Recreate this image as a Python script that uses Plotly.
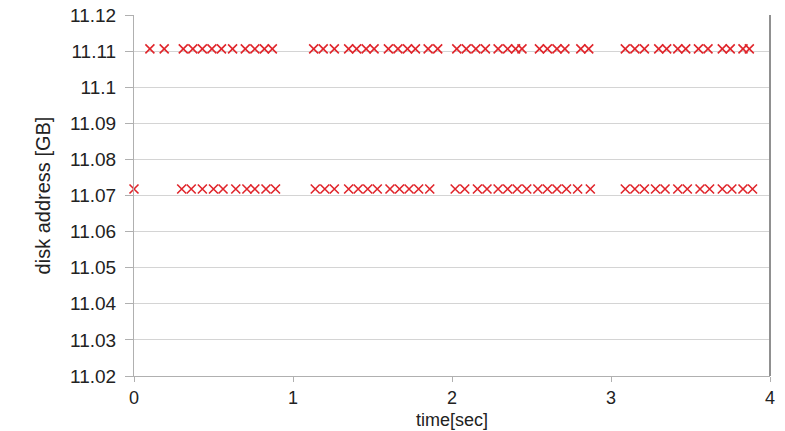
import plotly.graph_objects as go

# Sampled request times [sec] for the two address bands
upper_time = [0.10, 0.19, 0.31, 0.37, 0.43, 0.49, 0.55, 0.62, 0.70, 0.76, 0.82, 0.87,
              1.13, 1.19, 1.26, 1.35, 1.40, 1.46, 1.51, 1.60, 1.66, 1.72, 1.77, 1.85, 1.91,
              2.03, 2.09, 2.15, 2.21, 2.29, 2.35, 2.40, 2.44, 2.55, 2.60, 2.66, 2.71, 2.81, 2.86,
              3.09, 3.15, 3.21, 3.30, 3.35, 3.42, 3.47, 3.55, 3.61, 3.70, 3.75, 3.83, 3.87]
upper_addr = [11.1106] * len(upper_time)

lower_time = [0.00,
              0.30, 0.36, 0.43, 0.50, 0.56, 0.64, 0.71, 0.76, 0.83, 0.89,
              1.14, 1.20, 1.26, 1.35, 1.41, 1.47, 1.53, 1.61, 1.67, 1.73, 1.79, 1.86,
              2.02, 2.08, 2.16, 2.22, 2.29, 2.35, 2.41, 2.47, 2.54, 2.60, 2.66, 2.72, 2.79, 2.87,
              3.09, 3.15, 3.21, 3.28, 3.34, 3.42, 3.48, 3.56, 3.62, 3.70, 3.76, 3.83, 3.89]
lower_addr = [11.0718] * len(lower_time)

y_ticks = [11.02, 11.03, 11.04, 11.05, 11.06, 11.07, 11.08, 11.09, 11.10, 11.11, 11.12]
y_labels = ["11.02", "11.03", "11.04", "11.05", "11.06", "11.07", "11.08", "11.09", "11.1", "11.11", "11.12"]
x_ticks = [0, 1, 2, 3, 4]

marker_style = dict(symbol="x-thin", size=9, color="#e0252b",
                    line=dict(color="#e0252b", width=1.6))

fig = go.Figure()
fig.add_trace(go.Scatter(x=upper_time, y=upper_addr, mode="markers", cliponaxis=False,
                         marker=marker_style, showlegend=False))
fig.add_trace(go.Scatter(x=lower_time, y=lower_addr, mode="markers", cliponaxis=False,
                         marker=marker_style, showlegend=False))

font_main = "Liberation Sans, Arial, sans-serif"

fig.update_layout(
    width=785, height=431,
    margin=dict(l=134, r=15, t=15, b=55, autoexpand=False),
    paper_bgcolor="white", plot_bgcolor="white",
    font=dict(family=font_main, size=19, color="#222222"),
    xaxis=dict(
        range=[0, 4], tickvals=x_ticks, ticktext=[str(v) for v in x_ticks],
        showgrid=False, zeroline=False,
        showline=True, linecolor="#b0b0b0", linewidth=1,
        ticks="outside", ticklen=5, tickcolor="#b0b0b0",
        tickfont=dict(size=18),
    ),
    yaxis=dict(
        range=[11.02, 11.12], tickvals=y_ticks, ticktext=y_labels,
        showgrid=True, gridcolor="#d4d4d4", gridwidth=1, zeroline=False,
        showline=True, linecolor="#b0b0b0", linewidth=1,
        ticks="outside", ticklen=8, tickcolor="#b0b0b0",
        ticklabelstandoff=5,
        tickfont=dict(size=19),
        title=dict(text="disk address [GB]", standoff=14,
                   font=dict(family=font_main, size=20)),
    ),
    annotations=[dict(text="time[sec]", xref="paper", yref="paper", x=0.5, y=0,
                      xanchor="center", yanchor="middle", yshift=-44, showarrow=False,
                      font=dict(family="Liberation Sans Narrow, " + font_main, size=18))],
    shapes=[dict(type="line", xref="paper", yref="paper", x0=1, x1=1, y0=0, y1=1,
                 line=dict(color="#909090", width=2))],
)

fig.write_html("out.html")
